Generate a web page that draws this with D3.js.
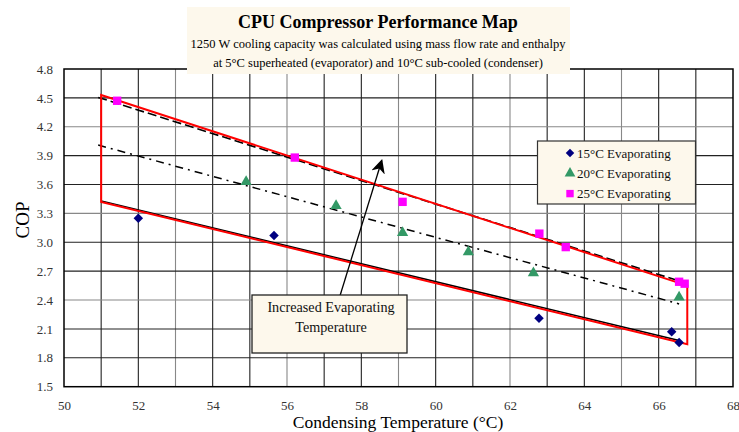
<!DOCTYPE html>
<html><head><meta charset="utf-8">
<script src="https://cdn.jsdelivr.net/npm/d3@7"></script>
<style>body{margin:0;background:#fff}svg{display:block}text{font-family:"Liberation Serif","Times New Roman",serif}</style>
</head><body>
<script>
// ---- data ----
const title = "CPU Compressor Performance Map";
const subtitle = ["1250 W cooling capacity was calculated using mass flow rate and enthalpy",
                  "at 5\u00B0C superheated (evaporator) and 10\u00B0C sub-cooled (condenser)"];
const xTicks = [50,52,54,56,58,60,62,64,66,68];
const yTicks = [1.5,1.8,2.1,2.4,2.7,3.0,3.3,3.6,3.9,4.2,4.5,4.8];
const seriesNames = ["15\u00B0C Evaporating","20\u00B0C Evaporating","25\u00B0C Evaporating"];
const evap15 = [[52.0,3.25],[55.65,3.07],[62.78,2.21],[66.35,2.07],[66.55,1.96]];
const evap20 = [[54.9,3.63],[57.32,3.38],[59.11,3.10],[60.88,2.90],[62.63,2.68],[66.55,2.43]];
const evap25 = [[51.43,4.47],[56.21,3.88],[59.11,3.42],[62.79,3.09],[63.5,2.95],[66.55,2.59],[66.7,2.57]];
const envelope = [[51.0,4.53],[66.77,2.55],[66.77,1.94],[51.0,3.42]];
const fit15 = [[51.0,3.43],[66.55,1.98]];
const fit20 = [[50.92,4.01],[66.55,2.36]];
const fit25 = [[50.92,4.505],[66.7,2.58]];
const arrowLine = [[57.43,2.45],[58.55,3.85]];
const annotation = ["Increased Evaporating","Temperature"];

const W=739,H=432;
const svg=d3.select("body").append("svg").attr("width",W).attr("height",H);
const x=d3.scaleLinear().domain([50,68]).range([64,733]);
const y=d3.scaleLinear().domain([1.5,4.8]).range([386.7,69]);

// grid
const g=svg.append("g");
g.selectAll("line.v").data(d3.range(51,68)).join("line")
 .attr("x1",d=>x(d)).attr("x2",d=>x(d)).attr("y1",y(1.5)).attr("y2",y(4.8))
 .attr("stroke",(d,i)=>i%3===2?"#888":"#222").attr("stroke-width",1.1);
g.selectAll("line.h").data(yTicks.slice(1,-1)).join("line")
 .attr("x1",x(50)).attr("x2",x(68)).attr("y1",d=>y(d)).attr("y2",d=>y(d))
 .attr("stroke",(d,i)=>i%3===2?"#888":"#222").attr("stroke-width",1.1);

// frame
svg.append("rect").attr("x",x(50)).attr("y",y(4.8)).attr("width",x(68)-x(50)).attr("height",y(1.5)-y(4.8))
 .attr("fill","none").attr("stroke","#000").attr("stroke-width",1.5);

// axes labels via d3 axes
const xa=svg.append("g").attr("transform",`translate(0,${y(1.5)})`)
 .call(d3.axisBottom(x).tickValues(xTicks).tickSize(0).tickPadding(14).tickFormat(d3.format("d")));
xa.select(".domain").remove();
xa.selectAll("text").attr("font-size",13).attr("fill","#333").attr("font-family","Liberation Serif");
const ya=svg.append("g").attr("transform",`translate(${x(50)},0)`)
 .call(d3.axisLeft(y).tickValues(yTicks).tickSize(0).tickPadding(11).tickFormat(d3.format(".1f")));
ya.select(".domain").remove();
ya.selectAll("text").attr("font-size",13).attr("fill","#333").attr("font-family","Liberation Serif");

svg.append("text").attr("transform","translate(29,220) rotate(-90)").attr("text-anchor","middle")
 .attr("font-size",19).text("COP");
svg.append("text").attr("x",398).attr("y",428).attr("text-anchor","middle").attr("font-size",17.5)
 .text("Condensing Temperature (\u00B0C)");

const line=d3.line().x(d=>x(d[0])).y(d=>y(d[1]));
// fit lines
svg.append("path").attr("d",line(fit15)).attr("stroke","#000").attr("stroke-width",1.5).attr("fill","none");
svg.append("path").attr("d",line(fit25)).attr("stroke","#000").attr("stroke-width",1.6).attr("fill","none").attr("stroke-dasharray","9,4");
svg.append("path").attr("d",line(fit20)).attr("stroke","#000").attr("stroke-width",1.5).attr("fill","none").attr("stroke-dasharray","8,5,2,5");
// envelope
svg.append("path").attr("d",line(envelope)+"Z").attr("stroke","#ff0000").attr("stroke-width",2).attr("fill","none");

// markers
const sym=(t,s)=>d3.symbol().type(t).size(s)();
svg.selectAll("path.s15").data(evap15).join("path").attr("d",sym(d3.symbolSquare,45))
 .attr("transform",d=>`translate(${x(d[0])},${y(d[1])}) rotate(45)`).attr("fill","#000080");
svg.selectAll("path.s20").data(evap20).join("path").attr("d",sym(d3.symbolTriangle,55))
 .attr("transform",d=>`translate(${x(d[0])},${y(d[1])})`).attr("fill","#339966");
svg.selectAll("path.s25").data(evap25).join("path").attr("d",sym(d3.symbolSquare,70))
 .attr("transform",d=>`translate(${x(d[0])},${y(d[1])})`).attr("fill","#ff00ff");

// arrow
const defs=svg.append("defs");
defs.append("marker").attr("id","ah").attr("viewBox","0 0 10 10").attr("refX",9).attr("refY",5)
 .attr("markerWidth",14).attr("markerHeight",14).attr("markerUnits","userSpaceOnUse").attr("orient","auto")
 .append("path").attr("d","M0,0 L10,5 L0,10 L3,5 Z").attr("fill","#000");
svg.append("path").attr("d",line(arrowLine)).attr("stroke","#000").attr("stroke-width",1.3).attr("marker-end","url(#ah)");

// annotation box
svg.append("rect").attr("x",252).attr("y",295).attr("width",155).attr("height",58)
 .attr("fill","#fdf8ec").attr("stroke","#222").attr("stroke-width",1.3);
svg.selectAll("text.ann").data(annotation).join("text").attr("x",331).attr("y",(d,i)=>312+i*20)
 .attr("text-anchor","middle").attr("font-size",14.2).attr("fill","#111").text(d=>d);

// legend
svg.append("rect").attr("x",537.5).attr("y",141).attr("width",158).attr("height",63)
 .attr("fill","#fdf8ec").attr("stroke","#333").attr("stroke-width",1.2);
const lg=[[d3.symbolSquare,"#000080",36,45],[d3.symbolTriangle,"#339966",50,0],[d3.symbolSquare,"#ff00ff",55,0]];
lg.forEach((s,i)=>{
  const yy=153+i*20.3;
  svg.append("path").attr("d",sym(s[0],s[2])).attr("transform",`translate(570,${yy}) rotate(${s[3]})`).attr("fill",s[1]);
  svg.append("text").attr("x",577).attr("y",yy+4.5).attr("font-size",13).attr("fill","#111").text(seriesNames[i]);
});

// title box
svg.append("rect").attr("x",187).attr("y",7).attr("width",383).attr("height",67).attr("fill","#fdf8ec");
svg.append("text").attr("x",378).attr("y",28).attr("text-anchor","middle").attr("font-size",18)
 .attr("font-weight","bold").text(title);
svg.selectAll("text.sub").data(subtitle).join("text").attr("x",378).attr("y",(d,i)=>48+i*18.5)
 .attr("text-anchor","middle").attr("font-size",12.5).text(d=>d);
</script>
</body></html>
